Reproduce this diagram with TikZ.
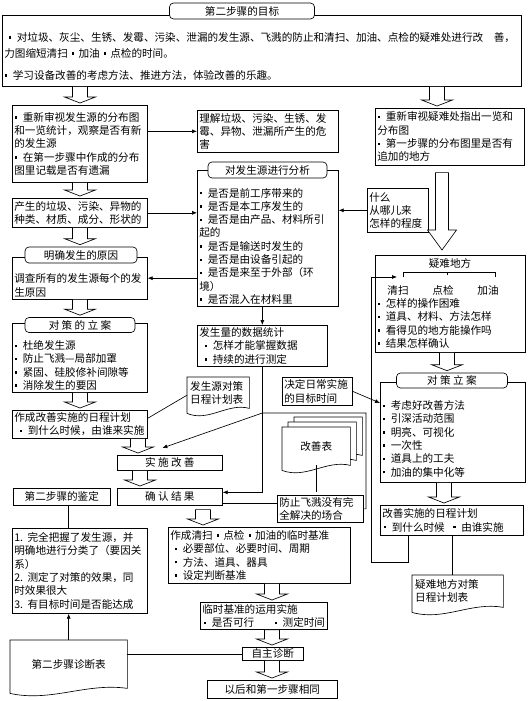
\documentclass[tikz,border=0pt]{standalone}
\usepackage{fontspec}
\setmainfont{Noto Sans CJK SC}
\usetikzlibrary{calc,arrows.meta,backgrounds}
\newcommand\ft{\fontsize{10.6}{13.3}\selectfont}
\newcommand\sq{\rule[2.6pt]{2.4pt}{2.4pt}}
\newcommand\bu{\makebox[0.8em][l]{\hspace{0.5pt}\sq}}
\newcommand\dt{\makebox[1em][c]{\sq}}
\newcommand\tp[1]{\rule{0pt}{#1pt}}
\tikzset{
 ln/.style={line width=0.65pt, draw=black},
 bx/.style={ln, fill=white, anchor=north west, inner sep=2pt, align=left, font=\ft},
 tt/.style={ln, fill=white, rounded corners=4pt, inner sep=0pt, font=\ft},
 cbx/.style={ln, fill=white, anchor=north west, inner sep=0pt, align=center, font=\ft},
 arr/.style={ln, -{Latex[length=5pt,width=4pt]}},
 hollow/.style={ln, fill=white},
 docn/.style={anchor=north west, inner sep=3pt, align=left, font=\ft},
}
\newcommand\B[6]{\pgfmathsetlengthmacro\tw{#4-4}\node[bx,text width=\tw,minimum height=#5pt] (#1) at (#2,#3) {#6};}
\newcommand\C[6]{\node[cbx,minimum width=#4pt,minimum height=#5pt] (#1) at (#2,#3) {#6};}
\newcommand\T[6]{\node[tt,minimum width=#4pt,minimum height=#5pt] (#1) at (#2,#3) {#6};}
\newcommand\harrowg[8]{%
  \path (#1,0 |- #2.south) coordinate (hA) (#1,0 |- #3.north) coordinate (hB);
  \draw[hollow] let \p1=(hA), \p2=(hB) in
   (\x1-#6pt,\y1-#4pt) -- (\x1+#6pt,\y1-#4pt) -- (\x1+#6pt,\y2+#5pt+#8pt) -- (\x1+#7pt,\y2+#5pt+#8pt) -- (\x1,\y2+#5pt) -- (\x1-#7pt,\y2+#5pt+#8pt) -- (\x1-#6pt,\y2+#5pt+#8pt) -- cycle;}
\newcommand\harrow[3]{\harrowg{#1}{#2}{#3}{0}{2}{7.5}{15.5}{6}}
\newcommand\docout[1]{\draw[ln,fill=white] ($(#1.south west)+(0,5)$) -- (#1.north west) -- (#1.north east) -- (#1.south east) .. controls ($(#1.south west)!0.65!(#1.south east)+(0,-6)$) and ($(#1.south west)!0.35!(#1.south east)+(0,14)$) .. ($(#1.south west)+(0,5)$) -- cycle;}
\begin{document}
\begin{tikzpicture}[x=1pt,y=-1pt]
\begin{scope}[on background layer]
\fill[white] (0,0) rectangle (528,701);
\end{scope}
\useasboundingbox (0,0) rectangle (528,701);

% goal
\B{g}{2}{15}{519}{71}{\tp{20.3}\hspace*{4pt}\bu 对垃圾、灰尘、生锈、发霉、污染、泄漏的发生源、飞溅的防止和清扫、加油、点检的疑难处进行改　善，\\[2.7pt]力图缩短清扫\dt 加油\dt 点检的时间。\\[8.7pt]\bu 学习设备改善的考虑方法、推进方法，体验改善的乐趣。}
\T{gt}{242}{11}{145}{16}{第二步骤的目标}

% left column
\B{A1}{12}{105}{135}{77}{\bu 重新审视发生源的分布图\\和一览统计，观察是否有新\\的发生源\\\bu 在第一步骤中作成的分布\\图里记载是否有遗漏}
\B{A2}{12}{198}{135}{29}{产生的垃圾、污染、异物的\\种类、材质、成分、形状的}
\B{A3}{12}{257}{135}{41}{\tp{23.6}调查所有的发生源每个的发\\生原因}
\T{t1}{81}{255}{112}{16}{明确发生的原因}
\B{A4}{12}{323}{135}{67}{\tp{24.2}\bu 杜绝发生源\\\bu 防止飞溅—局部加罩\\\bu 紧固、硅胶修补间隙等\\\bu 消除发生的要因}
\T{t2}{80}{325}{110}{15}{对 策 的 立 案}
\B{A5}{12}{410}{135}{28}{作成改善实施的日程计划\\\hspace*{5pt}\bu 到什么时候，由谁来实施}
\C{ss}{117}{455}{105}{15}{实 施 改 善}
\C{qr}{117}{488}{105}{17}{确 认 结 果}
\C{jd}{13}{488}{97}{17}{第二步骤的鉴定}
\B{B1}{12}{528}{135}{85}{\makebox[1.25em][l]{1.}完全把握了发生源，并\\明确地进行分类了（要因关\\系）\\\makebox[1.25em][l]{2.}测定了对策的效果，同\\时效果很大\\\makebox[1.25em][l]{3.}有目标时间是否能达成}
\node[docn, text width=111pt, minimum height=48pt, align=center] (zd) at (10,640) {第二步骤诊断表};

% middle column
\B{M1}{197}{110}{141}{42}{理解垃圾、污染、生锈、发\\霉、异物、泄漏所产生的危\\害}
\B{M2}{197}{170}{141}{133}{\tp{24.7}\bu 是否是前工序带来的\\\bu 是否是本工序发生的\\\bu 是否是由产品、材料所引\\起的\\\bu 是否是输送时发生的\\\bu 是否是由设备引起的\\\bu 是否是来至于外部（环\\境）\\\bu 是否混入在材料里}
\T{t3}{267.5}{170}{119}{16}{对发生源进行分析}
\B{M3}{197}{325}{130}{41}{发生量的数据统计\\\hspace*{5pt}\bu 怎样才能掌握数据\\\hspace*{5pt}\bu 持续的进行测定}
\node[docn, text width=56pt, minimum height=31pt] (fs) at (187,377) {发生源对策\\日程计划表};
\B{jt}{282}{377}{70}{28}{决定日常实施\\的目标时间}
\node[docn, minimum width=68pt, minimum height=38pt] (kb3) at (294,417) {};
\node[docn, minimum width=68pt, minimum height=38pt] (kb2) at (288,422) {};
\node[docn, minimum width=68pt, minimum height=38pt, align=center] (kb) at (282,427) {改善表};
\B{fz}{277}{495}{86}{27}{防止飞溅没有完\\全解决的场合}
\B{M4}{168}{527}{182}{56}{作成清扫\dt 点检\dt 加油的临时基准\\\hspace*{4pt}\bu 必要部位、必要时间、周期\\\hspace*{4pt}\bu 方法、道具、器具\\\hspace*{4pt}\bu 设定判断基准}
\B{M5}{200}{602}{127}{26}{临时基准的运用实施\\\hspace*{1pt}\bu 是否可行\hspace{20pt}\bu 测定时间}
\C{zz}{242}{647}{61}{13}{自主诊断}
\C{yh}{207}{680}{130}{18}{以后和第一步骤相同}

% right column
\B{R1}{375}{108}{149}{57}{\bu 重新审视疑难处指出一览和\\分布图\\\bu 第一步骤的分布图里是否有\\追加的地方}
\B{wh}{367}{188}{61}{44}{什么\\从哪儿来\\怎样的程度}
\B{R2}{375}{255}{150}{97}{\tp{48.2}\bu 怎样的操作困难\\\bu 道具、材料、方法怎样\\\bu 看得见的地方能操作吗\\\bu 结果怎样确认}
\node[font=\ft] (r2t) at (450,263) {疑难地方};
\node[font=\ft] (r2a) at (398,290) {清扫};
\node[font=\ft] (r2b) at (443,290) {点检};
\node[font=\ft] (r2c) at (488,290) {加油};
\draw[ln] (403,277) -- (403,272) -- (495,272) -- (495,277) (447,272) -- (447,275);
\B{R3}{380}{382}{145}{100}{\tp{21.8}\bu 考虑好改善方法\\\bu 引深活动范围\\\bu 明亮、可视化\\\bu 一次性\\\bu 道具上的工夫\\\bu 加油的集中化等}
\T{t4}{452}{380.5}{111}{15}{对 策 立 案}
\B{R4}{380}{505}{143}{30}{改善实施的日程计划\\\hspace*{1pt}\bu 到什么时候\hspace{8pt}\bu 由谁实施}
\node[docn, text width=85pt, minimum height=32pt] (yd) at (412,575) {疑难地方对策\\日程计划表};

% document outlines
\begin{scope}[on background layer]
\docout{zd}
\docout{fs}
\docout{kb3}
\docout{kb2}
\docout{kb}
\docout{yd}
\end{scope}

% hollow arrows
\harrow{80}{g}{A1}
\harrow{437}{g}{R1}
\harrow{80}{A1}{A2}
\harrow{80}{A2}{t1}
\harrow{80}{A3}{t2}
\harrow{80}{A4}{A5}
\harrow{138}{A5}{ss}
\harrow{140}{ss}{qr}
\harrowg{203}{qr}{M4}{4}{2}{7.5}{15.5}{6}
\harrow{272}{M4}{M5}
\harrow{272}{M5}{zz}
\harrow{272}{zz}{yh}
\harrowg{442}{R1}{R2}{7}{5}{6.5}{14.5}{20}
\harrow{447}{R2}{t4}
\harrow{444}{R3}{R4}

% connectors
\draw[arr] (M1.west -| A1.east) -- (M1.west);
\draw[arr] (A2.east) -- (A2.east -| M2.west);
\draw[arr] (A3.east -| M2.west) -- (A3.east);
\draw[arr] (wh.west) -- (wh.west -| M2.east);
\draw[arr] (M3.north |- M2.south) -- (M3.north);
\draw[ln] ([yshift=6pt]A5.east) -- ([yshift=-2.5pt]fs.west);
\coordinate (qa) at ([yshift=4.5pt]qr.east);
\draw[arr] (M3.south) |- (qa);
\draw[ln] (kb.south) -- (kb.south |- qa);
\draw[ln] ([yshift=-6.5pt]qr.east) -- ([yshift=-6.5pt]qr.east -| fz.west);
\coordinate (c1) at (366,413);
\draw[arr] (fz.east) -| (c1) -- (c1 -| M3.south) -- ([shift={(-7.5pt,7pt)}]ss.north);
\draw[arr] (jt.east) -- ([yshift=-21pt]R3.north west);
\coordinate (L1) at (371,562);
\coordinate (L3) at (397,277);
\draw[arr] (408,0 |- R4.south) |- (L1) |- (L3);
\draw[ln] (R4.south) -- (R4.south |- yd.north);
\draw[ln] (zd.north |- jd.south) -- (zd.north |- B1.north);
\draw[arr] (zd.north) -- (zd.north |- B1.south);
\draw[ln] (zz.west -| zd.east) -- (zz.west);
\end{tikzpicture}
\end{document}
